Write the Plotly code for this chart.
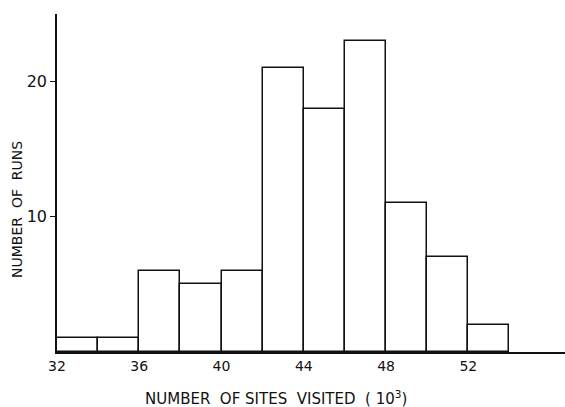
import plotly.graph_objects as go

# Histogram of simulation runs by number of sites visited (thousands)
bin_starts = [32, 34, 36, 38, 40, 42, 44, 46, 48, 50, 52]
bin_width = 2
run_counts = [1, 1, 6, 5, 6, 21, 18, 23, 11, 7, 2]
x_tick_vals = [32, 36, 40, 44, 48, 52]
x_tick_text = ["32", "36", "40", "44", "48", "52"]
y_tick_vals = [10, 20]

centers = [s + bin_width / 2 for s in bin_starts]

FONT = "DejaVu Sans"

fig = go.Figure(
    go.Bar(
        x=centers,
        y=run_counts,
        width=[bin_width] * len(centers),
        marker=dict(color="white", line=dict(color="#111111", width=1.5)),
        hoverinfo="x+y",
    )
)

fig.update_layout(
    width=565,
    height=407,
    margin=dict(l=57, r=0, t=14, b=55),
    paper_bgcolor="white",
    plot_bgcolor="white",
    showlegend=False,
    font=dict(family=FONT, color="#111111", size=14),
    bargap=0,
)

fig.update_xaxes(
    range=[32, 56.7],
    tickvals=x_tick_vals,
    ticktext=x_tick_text,
    ticks="",
    showgrid=False,
    zeroline=False,
    showline=True,
    linecolor="#111111",
    linewidth=1.5,
    tickfont=dict(size=14),
)

fig.update_yaxes(
    range=[0, 25],
    tickvals=y_tick_vals,
    ticks="outside",
    ticklen=5,
    tickwidth=1.2,
    tickcolor="#111111",
    showgrid=False,
    zeroline=False,
    showline=True,
    linecolor="#111111",
    linewidth=1.5,
    tickfont=dict(size=16),
)

fig.add_annotation(
    text="NUMBER  OF SITES  VISITED  ( 10<sup>3</sup>)",
    xref="paper", yref="paper",
    x=(276 - 57) / 508, y=-46 / 338,
    xanchor="center", yanchor="middle",
    showarrow=False,
    font=dict(family=FONT, size=15, color="#111111"),
)

fig.add_annotation(
    text="NUMBER  OF  RUNS",
    xref="paper", yref="paper",
    x=-40 / 508, y=(352 - 210) / 338,
    xanchor="center", yanchor="middle",
    textangle=-90,
    showarrow=False,
    font=dict(family=FONT, size=14, color="#111111"),
)

fig.write_html("out.html")
